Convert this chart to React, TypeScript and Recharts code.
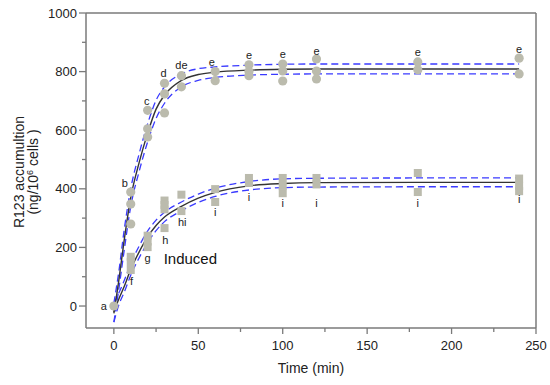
import { ComposedChart, Line, Scatter, XAxis, YAxis, ReferenceLine, Label } from 'recharts';

const FONT = '"Liberation Sans", Arial, sans-serif';
const AXIS = '#7a7a7a';
const MARK = '#bbbbad';
const FIT = '#333333';
const BAND = '#3a3aff';

// fitted curves at these times (min)
const FIT_T = [0, 3, 6, 10, 15, 20, 25, 30, 40, 50, 60, 80, 100, 120, 180, 240];
const CTRL_FIT = [-25, 90, 220, 370, 490, 590, 672, 720, 770, 790, 798, 805, 808, 809, 809, 809];
const CTRL_HI = [10, 120, 255, 400, 520, 622, 702, 748, 792, 810, 816, 822, 825, 826, 826, 826];
const CTRL_LO = [-55, 60, 185, 340, 460, 560, 640, 692, 748, 770, 780, 788, 791, 792, 792, 792];
const IND_FIT = [-20, 25, 65, 125, 185, 236, 275, 304, 340, 368, 388, 410, 418, 421, 422, 422];
const IND_HI = [10, 45, 85, 145, 205, 256, 293, 320, 355, 382, 402, 425, 434, 436, 437, 437];
const IND_LO = [-55, 5, 45, 105, 165, 216, 257, 288, 325, 354, 374, 396, 404, 406, 407, 407];

// measured points
const CTRL_PTS = [
  { t: 0, v: 0 },
  { t: 10, v: 389 }, { t: 10, v: 348 }, { t: 10, v: 280 },
  { t: 20, v: 668 }, { t: 20, v: 605 }, { t: 20, v: 577 },
  { t: 30, v: 760 }, { t: 30, v: 724 }, { t: 30, v: 659 },
  { t: 40, v: 786 }, { t: 40, v: 748 },
  { t: 60, v: 800 }, { t: 60, v: 769 },
  { t: 80, v: 823 }, { t: 80, v: 800 }, { t: 80, v: 786 },
  { t: 100, v: 826 }, { t: 100, v: 802 }, { t: 100, v: 768 },
  { t: 120, v: 843 }, { t: 120, v: 802 }, { t: 120, v: 775 },
  { t: 180, v: 833 }, { t: 180, v: 806 },
  { t: 240, v: 846 }, { t: 240, v: 792 },
];

const IND_PTS = [
  { t: 10, v: 168 }, { t: 10, v: 150 }, { t: 10, v: 123 },
  { t: 20, v: 240 }, { t: 20, v: 220 }, { t: 20, v: 201 },
  { t: 30, v: 360 }, { t: 30, v: 345 }, { t: 30, v: 330 }, { t: 30, v: 266 },
  { t: 40, v: 380 }, { t: 40, v: 324 },
  { t: 60, v: 399 }, { t: 60, v: 355 },
  { t: 80, v: 437 }, { t: 80, v: 420 },
  { t: 100, v: 437 }, { t: 100, v: 410 }, { t: 100, v: 385 },
  { t: 120, v: 437 }, { t: 120, v: 415 },
  { t: 180, v: 454 }, { t: 180, v: 389 },
  { t: 240, v: 435 }, { t: 240, v: 410 }, { t: 240, v: 392 },
];

// significance letters
const LETTERS = [
  { t: -6, v: 0, text: 'a' },
  { t: 6.5, v: 420, text: 'b' },
  { t: 19.5, v: 698, text: 'c' },
  { t: 29.5, v: 794, text: 'd' },
  { t: 40, v: 822, text: 'de' },
  { t: 58, v: 833, text: 'e' },
  { t: 80, v: 855, text: 'e' },
  { t: 100, v: 860, text: 'e' },
  { t: 120, v: 870, text: 'e' },
  { t: 180, v: 867, text: 'e' },
  { t: 240, v: 877, text: 'e' },
  { t: 10.5, v: 86, text: 'f' },
  { t: 20, v: 164, text: 'g' },
  { t: 30.5, v: 225, text: 'h' },
  { t: 40.5, v: 287, text: 'hi' },
  { t: 60, v: 321, text: 'i' },
  { t: 80, v: 372, text: 'i' },
  { t: 100, v: 352, text: 'i' },
  { t: 120, v: 352, text: 'i' },
  { t: 180, v: 352, text: 'i' },
  { t: 240, v: 365, text: 'i' },
];

const NOTE = [{ t: 29.5, v: 160, text: 'Induced' }];

const X_TICKS = [0, 25, 50, 75, 100, 125, 150, 175, 200, 225, 250];
const Y_TICKS = [0, 100, 200, 300, 400, 500, 600, 700, 800, 900, 1000];

const fitData = FIT_T.map((t, i) => ({
  t,
  ctrl: CTRL_FIT[i],
  ctrlHi: CTRL_HI[i],
  ctrlLo: CTRL_LO[i],
  ind: IND_FIT[i],
  indHi: IND_HI[i],
  indLo: IND_LO[i],
}));

function YTick(props: any) {
  const { x, y, payload } = props;
  const major = payload.value % 200 === 0;
  return (
    <g>
      <line x1={x - (major ? 7 : 4)} x2={x} y1={y} y2={y} stroke={AXIS} strokeWidth={1.3} />
      {major && (
        <text x={x - 9} y={y} dy={4.5} textAnchor="end" fontSize={13} fontFamily={FONT} fill="#222">
          {payload.value}
        </text>
      )}
    </g>
  );
}

function XTick(props: any) {
  const { x, y, payload } = props;
  const major = payload.value % 50 === 0;
  return (
    <g>
      <line x1={x} x2={x} y1={y} y2={y + (major ? 6 : 4)} stroke={AXIS} strokeWidth={1.3} />
      {major && (
        <text x={x} y={y + 22} textAnchor="middle" fontSize={13} fontFamily={FONT} fill="#222">
          {payload.value}
        </text>
      )}
    </g>
  );
}

const circle = (p: any) => <circle cx={p.cx} cy={p.cy} r={4.6} fill={MARK} />;
const square = (p: any) => <rect x={p.cx - 4} y={p.cy - 4} width={8} height={8} fill={MARK} />;
const letter = (p: any) => (
  <text x={p.cx} y={p.cy} dy={4} textAnchor="middle" fontSize={11} fontFamily={FONT} fill="#222">
    {p.payload.text}
  </text>
);
const note = (p: any) => (
  <text x={p.cx} y={p.cy} dy={5} textAnchor="start" fontSize={15} fontFamily={FONT} fill="#111">
    {p.payload.text}
  </text>
);

export default function App() {
  return (
    <div style={{ position: 'absolute', left: 0, top: 0, width: 550, height: 385, background: '#fff' }}>
      <ComposedChart width={550} height={385} data={fitData} margin={{ top: 13, right: 14, bottom: 27, left: 30 }}>
        <XAxis
          type="number"
          dataKey="t"
          domain={[-16.5, 250]}
          ticks={X_TICKS}
          allowDataOverflow
          height={30}
          tickSize={0}
          tickMargin={0}
          tick={<XTick />}
          axisLine={{ stroke: AXIS, strokeWidth: 1.5 }}
        >
          <Label
            content={() => (
              <text x={311} y={373} textAnchor="middle" fontSize={14} fontFamily={FONT} fill="#222">
                Time (min)
              </text>
            )}
          />
        </XAxis>
        <YAxis
          type="number"
          domain={[-75, 1000]}
          ticks={Y_TICKS}
          allowDataOverflow
          width={56}
          tickSize={0}
          tickMargin={0}
          tick={<YTick />}
          axisLine={{ stroke: AXIS, strokeWidth: 1.5 }}
        >
          <Label
            content={() => (
              <text transform="translate(0,172) rotate(-90)" textAnchor="middle" fontSize={14} fontFamily={FONT} fill="#222">
                <tspan x={0} y={24}>R123 accumultion</tspan>
                <tspan x={0} y={38}>
                  (ng/10
                  <tspan dy={-5} fontSize={9}>6</tspan>
                  <tspan dy={5}> cells )</tspan>
                </tspan>
              </text>
            )}
          />
        </YAxis>
        <ReferenceLine y={1000} stroke={AXIS} strokeWidth={1.5} />
        <ReferenceLine x={250} stroke={AXIS} strokeWidth={1.5} />

        <Scatter data={CTRL_PTS} dataKey="v" shape={circle} isAnimationActive={false} />
        <Scatter data={IND_PTS} dataKey="v" shape={square} isAnimationActive={false} />

        {['ctrlHi', 'ctrlLo', 'indHi', 'indLo'].map((k) => (
          <Line
            key={k}
            type="monotone"
            dataKey={k}
            stroke={BAND}
            strokeWidth={1.3}
            strokeDasharray="7 4"
            dot={false}
            activeDot={false}
            isAnimationActive={false}
          />
        ))}
        {['ctrl', 'ind'].map((k) => (
          <Line
            key={k}
            type="monotone"
            dataKey={k}
            stroke={FIT}
            strokeWidth={1.4}
            dot={false}
            activeDot={false}
            isAnimationActive={false}
          />
        ))}

        <Scatter data={LETTERS} dataKey="v" shape={letter} isAnimationActive={false} />
        <Scatter data={NOTE} dataKey="v" shape={note} isAnimationActive={false} />
      </ComposedChart>
    </div>
  );
}
